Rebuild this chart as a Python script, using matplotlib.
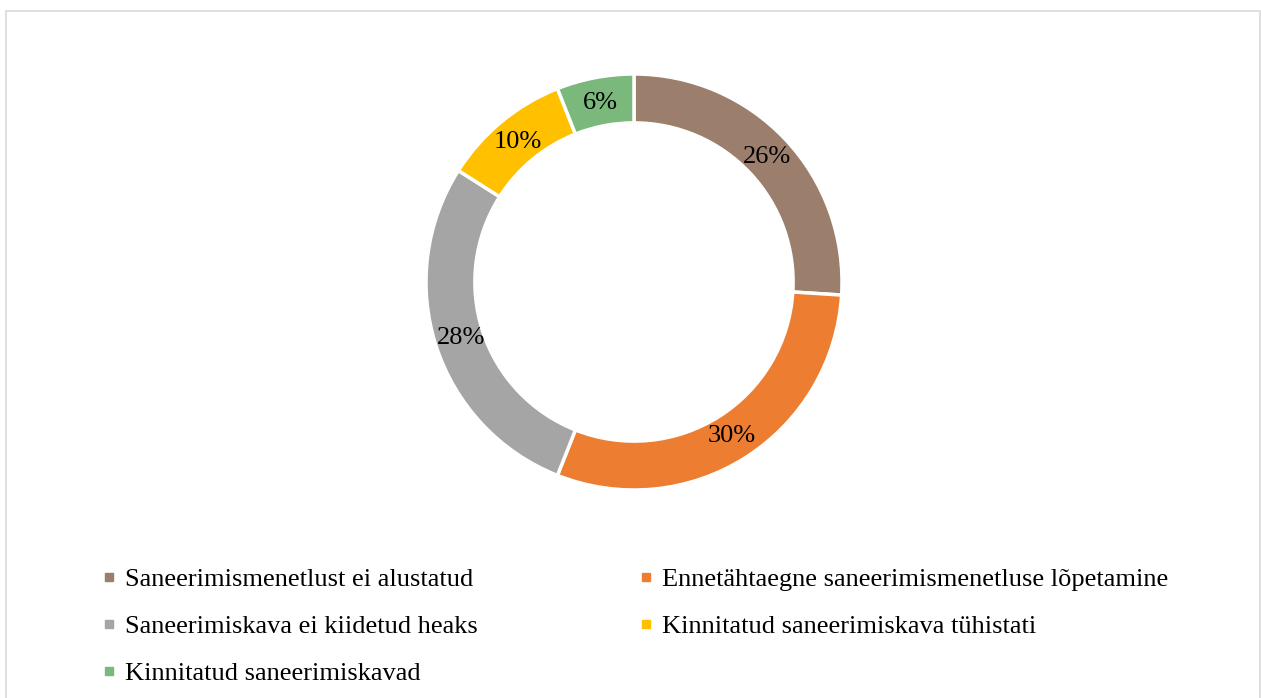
import matplotlib.pyplot as plt
from matplotlib.lines import Line2D
from matplotlib.patches import Rectangle

plt.rcParams['font.family'] = ['Liberation Serif', 'DejaVu Serif']

labels = [
    'Saneerimismenetlust ei alustatud',
    'Ennetähtaegne saneerimismenetluse lõpetamine',
    'Saneerimiskava ei kiidetud heaks',
    'Kinnitatud saneerimiskava tühistati',
    'Kinnitatud saneerimiskavad',
]
shares = [26, 30, 28, 10, 6]
colors = ['#9B7E6B', '#ED7D31', '#A5A5A5', '#FFC000', '#7AB87B']

W, H = 1261, 698
fig = plt.figure(figsize=(W / 100, H / 100), dpi=100)
fig.patch.set_facecolor('white')

# frame round the chart area
fig.add_artist(Rectangle((5.5 / W, -0.01), (1260 - 5.5) / W, 1 - 10.5 / H + 0.01,
                         transform=fig.transFigure, fill=False,
                         edgecolor='#D9D9D9', linewidth=1.2))

# donut, center ~ (634, 282) px, outer radius ~208 px
cx, cy, r = 634, 282, 208
ax = fig.add_axes([(cx - r) / W, 1 - (cy + r) / H, 2 * r / W, 2 * r / H])
wedges, texts, autotexts = ax.pie(
    shares, colors=colors, startangle=90, counterclock=False,
    radius=1.0, autopct='%1.0f%%', pctdistance=0.875,
    wedgeprops=dict(width=0.235, edgecolor='white', linewidth=2.5),
    textprops=dict(fontsize=19, color='black'),
)
for w in wedges:
    w.set_clip_on(False)
ax.set_xlim(-1, 1)
ax.set_ylim(-1, 1)
ax.set_aspect('equal')
ax.axis('off')

# legend, row-wise order like the reference
order = [0, 2, 4, 1, 3]
handles = [Line2D([], [], linestyle='none', marker='s', markersize=6,
                  markerfacecolor=colors[i], markeredgecolor=colors[i]) for i in order]
fig.legend(handles, [labels[i] for i in order], ncol=2, frameon=False,
           loc='upper left', bbox_to_anchor=(101 / W, 1 - 568 / H),
           fontsize=19, handlelength=0.6, handletextpad=0.3,
           labelspacing=0.88, columnspacing=6.1, borderpad=0, borderaxespad=0)

fig.savefig('out.png', dpi=100)
